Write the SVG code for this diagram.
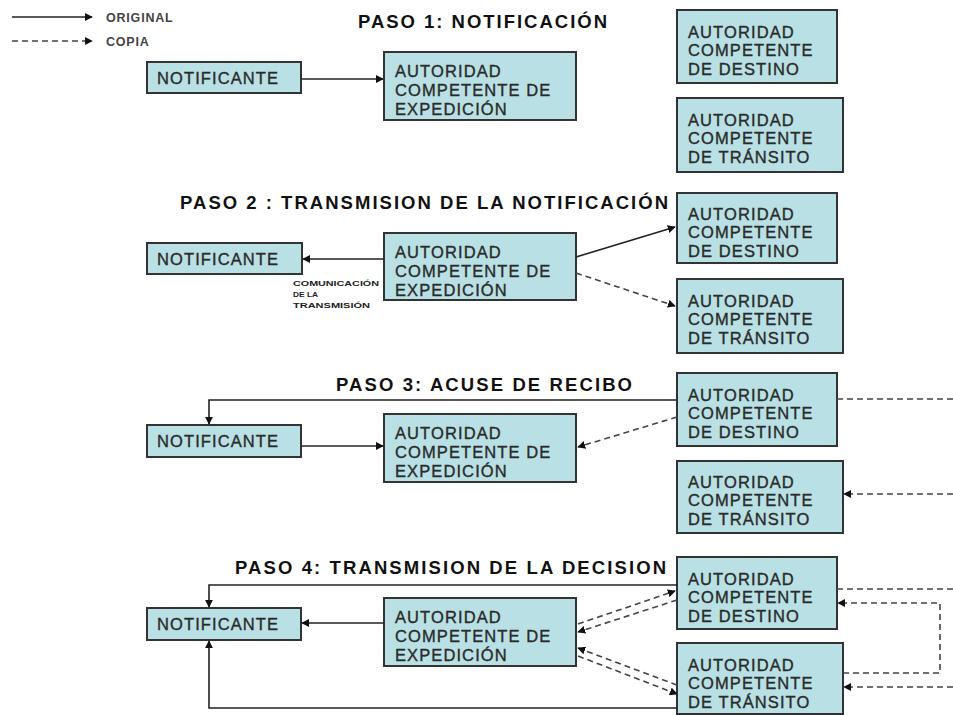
<svg xmlns="http://www.w3.org/2000/svg" width="953" height="715" viewBox="0 0 953 715">
<style>
.box{fill:#b9e0e4;stroke:#333;stroke-width:2}
.bt{font-family:"Liberation Sans",Arial,sans-serif;font-size:16.5px;letter-spacing:1.1px;fill:#2a2a2a;stroke:#2a2a2a;stroke-width:0.35}
.title{font-family:"Liberation Sans",Arial,sans-serif;font-size:18.5px;font-weight:bold;fill:#111}
.leg{font-family:"Liberation Sans",Arial,sans-serif;font-size:12.5px;font-weight:bold;fill:#444;letter-spacing:0.8px}
.small{font-family:"Liberation Sans",Arial,sans-serif;font-size:7.5px;font-weight:bold;fill:#222}
.sol{fill:none;stroke:#222;stroke-width:1.6}
.dash{fill:none;stroke:#444;stroke-width:1.6;stroke-dasharray:6 4}
</style>
<defs>
<marker id="ah" viewBox="0 0 10 10" refX="9" refY="5" markerWidth="8" markerHeight="8" markerUnits="userSpaceOnUse" orient="auto">
<path d="M0,0 L10,5 L0,10 z" fill="#111"/>
</marker>
</defs>
<rect width="953" height="715" fill="#fff"/>

<g id="legend">
<line class="sol" x1="12" y1="17" x2="92" y2="17" marker-end="url(#ah)"/>
<text class="leg" x="106" y="22">ORIGINAL</text>
<line class="dash" x1="12" y1="41" x2="92" y2="41" marker-end="url(#ah)"/>
<text class="leg" x="106" y="46">COPIA</text>
</g>

<g id="titles">
<text class="title" x="358" y="28" textLength="249" lengthAdjust="spacing">PASO 1: NOTIFICACIÓN</text>
<text class="title" x="180" y="209" textLength="488" lengthAdjust="spacing">PASO 2 : TRANSMISION DE LA NOTIFICACIÓN</text>
<text class="title" x="336" y="391" textLength="296" lengthAdjust="spacing">PASO 3: ACUSE DE RECIBO</text>
<text class="title" x="235" y="574" textLength="431" lengthAdjust="spacing">PASO 4: TRANSMISION DE LA DECISION</text>
</g>

<!-- Step 1 -->
<g id="s1-notificante"><rect class="box" x="147" y="62" width="154" height="31"/><text class="bt" x="157" y="84">NOTIFICANTE</text></g>
<g id="s1-expedicion"><rect class="box" x="384" y="52" width="192" height="68"/><text class="bt" x="395" y="77">AUTORIDAD</text><text class="bt" x="395" y="96">COMPETENTE DE</text><text class="bt" x="395" y="115">EXPEDICIÓN</text></g>
<g id="s1-destino"><rect class="box" x="677" y="10" width="160" height="73"/><text class="bt" x="688" y="38">AUTORIDAD</text><text class="bt" x="688" y="56">COMPETENTE</text><text class="bt" x="688" y="75">DE DESTINO</text></g>
<g id="s1-transito"><rect class="box" x="677" y="98" width="166" height="74"/><text class="bt" x="688" y="126">AUTORIDAD</text><text class="bt" x="688" y="144">COMPETENTE</text><text class="bt" x="688" y="163">DE TRÁNSITO</text></g>

<!-- Step 2 -->
<g id="s2-notificante"><rect class="box" x="147" y="243" width="155" height="31"/><text class="bt" x="157" y="265">NOTIFICANTE</text></g>
<g id="s2-expedicion"><rect class="box" x="384" y="233" width="192" height="67"/><text class="bt" x="395" y="258">AUTORIDAD</text><text class="bt" x="395" y="277">COMPETENTE DE</text><text class="bt" x="395" y="296">EXPEDICIÓN</text></g>
<g id="s2-destino"><rect class="box" x="677" y="193" width="160" height="70"/><text class="bt" x="688" y="220">AUTORIDAD</text><text class="bt" x="688" y="238">COMPETENTE</text><text class="bt" x="688" y="257">DE DESTINO</text></g>
<g id="s2-transito"><rect class="box" x="677" y="279" width="166" height="74"/><text class="bt" x="688" y="307">AUTORIDAD</text><text class="bt" x="688" y="325">COMPETENTE</text><text class="bt" x="688" y="344">DE TRÁNSITO</text></g>
<g id="s2-label">
<text class="small" x="293" y="286" textLength="86" lengthAdjust="spacingAndGlyphs">COMUNICACIÓN</text>
<text class="small" x="293" y="297" textLength="25" lengthAdjust="spacingAndGlyphs">DE LA</text>
<text class="small" x="293" y="308" textLength="77" lengthAdjust="spacingAndGlyphs">TRANSMISIÓN</text>
</g>

<!-- Step 3 -->
<g id="s3-notificante"><rect class="box" x="147" y="425" width="154" height="32"/><text class="bt" x="157" y="447">NOTIFICANTE</text></g>
<g id="s3-expedicion"><rect class="box" x="384" y="414" width="192" height="68"/><text class="bt" x="395" y="439">AUTORIDAD</text><text class="bt" x="395" y="458">COMPETENTE DE</text><text class="bt" x="395" y="477">EXPEDICIÓN</text></g>
<g id="s3-destino"><rect class="box" x="677" y="373" width="160" height="73"/><text class="bt" x="688" y="401">AUTORIDAD</text><text class="bt" x="688" y="419">COMPETENTE</text><text class="bt" x="688" y="438">DE DESTINO</text></g>
<g id="s3-transito"><rect class="box" x="677" y="461" width="166" height="72"/><text class="bt" x="688" y="488">AUTORIDAD</text><text class="bt" x="688" y="506">COMPETENTE</text><text class="bt" x="688" y="525">DE TRÁNSITO</text></g>

<!-- Step 4 -->
<g id="s4-notificante"><rect class="box" x="147" y="608" width="154" height="32"/><text class="bt" x="157" y="630">NOTIFICANTE</text></g>
<g id="s4-expedicion"><rect class="box" x="384" y="598" width="192" height="68"/><text class="bt" x="395" y="623">AUTORIDAD</text><text class="bt" x="395" y="642">COMPETENTE DE</text><text class="bt" x="395" y="661">EXPEDICIÓN</text></g>
<g id="s4-destino"><rect class="box" x="677" y="557" width="160" height="72"/><text class="bt" x="688" y="585">AUTORIDAD</text><text class="bt" x="688" y="603">COMPETENTE</text><text class="bt" x="688" y="622">DE DESTINO</text></g>
<g id="s4-transito"><rect class="box" x="677" y="643" width="166" height="71"/><text class="bt" x="688" y="671">AUTORIDAD</text><text class="bt" x="688" y="689">COMPETENTE</text><text class="bt" x="688" y="708">DE TRÁNSITO</text></g>

<g id="connectors">
<!-- step 1 -->
<line class="sol" x1="301" y1="79" x2="383" y2="79" marker-end="url(#ah)"/>
<!-- step 2 -->
<line class="sol" x1="384" y1="259" x2="303" y2="259" marker-end="url(#ah)"/>
<line class="sol" x1="576" y1="257" x2="675" y2="227" marker-end="url(#ah)"/>
<line class="dash" x1="576" y1="273" x2="675" y2="306" marker-end="url(#ah)"/>
<!-- step 3 -->
<polyline class="sol" points="677,400 209,400 209,424" marker-end="url(#ah)"/>
<line class="sol" x1="301" y1="446" x2="383" y2="446" marker-end="url(#ah)"/>
<line class="dash" x1="677" y1="417" x2="578" y2="447" marker-end="url(#ah)"/>
<line class="dash" x1="837" y1="399" x2="953" y2="399"/>
<line class="dash" x1="953" y1="494" x2="844" y2="494" marker-end="url(#ah)"/>
<!-- step 4 -->
<polyline class="sol" points="677,585 209,585 209,607" marker-end="url(#ah)"/>
<polyline class="sol" points="677,708 209,708 209,641" marker-end="url(#ah)"/>
<line class="sol" x1="384" y1="623" x2="302" y2="623" marker-end="url(#ah)"/>
<line class="dash" x1="578" y1="624" x2="675" y2="591" marker-end="url(#ah)"/>
<line class="dash" x1="677" y1="600" x2="578" y2="632" marker-end="url(#ah)"/>
<line class="dash" x1="677" y1="685" x2="578" y2="648" marker-end="url(#ah)"/>
<line class="dash" x1="578" y1="656" x2="677" y2="694" marker-end="url(#ah)"/>
<line class="dash" x1="837" y1="589" x2="953" y2="589"/>
<polyline class="dash" points="843,673 940,673 940,603 838,603" marker-end="url(#ah)"/>
<line class="dash" x1="953" y1="687" x2="844" y2="687" marker-end="url(#ah)"/>
</g>
</svg>
